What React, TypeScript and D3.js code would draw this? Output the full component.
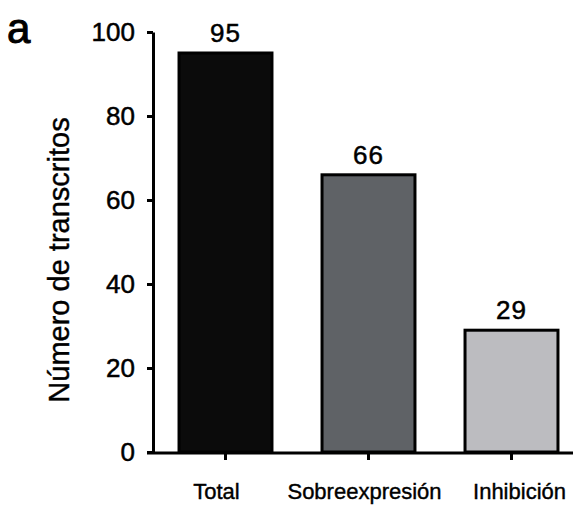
import React, { useEffect, useRef } from "react";
import * as d3 from "d3";

const categories = ["Total", "Sobreexpresión", "Inhibición"];
const values = [95, 66, 29];
const barColors = ["#0b0b0b", "#5f6266", "#bcbcc0"];
const yTicks = [0, 20, 40, 60, 80, 100];

export default function App() {
  const ref = useRef<SVGSVGElement>(null);

  useEffect(() => {
    const width = 573;
    const font = "'Liberation Sans', Arial, sans-serif";
    // category labels are not quite centred under their ticks in the original
    const labelShift = [-9, -4, 8];

    const svg = d3.select(ref.current);
    svg.selectAll("*").remove();

    const x = d3
      .scaleBand()
      .domain(categories)
      .range([154, 583])
      .paddingInner(0.35)
      .paddingOuter(0.175);

    const y = d3.scaleLinear().domain([0, 100]).range([452, 32]);

    // bars
    svg
      .append("g")
      .selectAll("rect")
      .data(values)
      .join("rect")
      .attr("x", (d, i) => x(categories[i]))
      .attr("y", d => y(d))
      .attr("width", x.bandwidth())
      .attr("height", d => y(0) - y(d))
      .attr("fill", (d, i) => barColors[i])
      .attr("stroke", "#000")
      .attr("stroke-width", 3);

    // value labels
    svg
      .append("g")
      .attr("font-family", font)
      .attr("font-size", 26)
      .attr("letter-spacing", 1)
      .attr("stroke", "#000")
      .attr("stroke-width", 0.5)
      .attr("text-anchor", "middle")
      .selectAll("text")
      .data(values)
      .join("text")
      .attr("x", (d, i) => x(categories[i]) + x.bandwidth() / 2)
      .attr("y", d => y(d) - 11)
      .text(d => d);

    // y axis
    const yAxis = svg
      .append("g")
      .attr("transform", "translate(153,0)")
      .call(d3.axisLeft(y).tickValues(yTicks).tickSize(6).tickSizeOuter(0).tickPadding(12));
    yAxis.select(".domain").attr("stroke-width", 3);
    yAxis.selectAll(".tick line").attr("stroke-width", 3);
    yAxis
      .selectAll("text")
      .attr("font-family", font)
      .attr("font-size", 26)
      .attr("fill", "#000")
      .attr("stroke", "#000")
      .attr("stroke-width", 0.5);

    // x axis
    const xAxis = svg
      .append("g")
      .attr("transform", "translate(0,453)")
      .call(d3.axisBottom(x).tickSize(7).tickSizeOuter(0).tickPadding(23));
    xAxis.select(".domain").attr("d", `M147,0H${width}`).attr("stroke-width", 3);
    xAxis.selectAll(".tick line").attr("stroke-width", 3);
    xAxis
      .selectAll("text")
      .attr("dx", (d, i) => labelShift[i])
      .attr("font-family", font)
      .attr("font-size", 22)
      .attr("fill", "#000")
      .attr("stroke", "#000")
      .attr("stroke-width", 0.4);

    // y label
    svg
      .append("text")
      .attr("transform", "translate(69,260) rotate(-90)")
      .attr("text-anchor", "middle")
      .attr("font-family", font)
      .attr("font-size", 29)
      .attr("stroke", "#000")
      .attr("stroke-width", 0.4)
      .text("Número de transcritos");

    // panel letter
    svg
      .append("text")
      .attr("x", 7)
      .attr("y", 43)
      .attr("font-family", font)
      .attr("font-size", 42)
      .attr("stroke", "#000")
      .attr("stroke-width", 1)
      .text("a");
  }, []);

  return (
    <svg
      ref={ref}
      width={573}
      height={507}
      style={{ position: "absolute", left: 0, top: 0, background: "#fff" }}
    />
  );
}
